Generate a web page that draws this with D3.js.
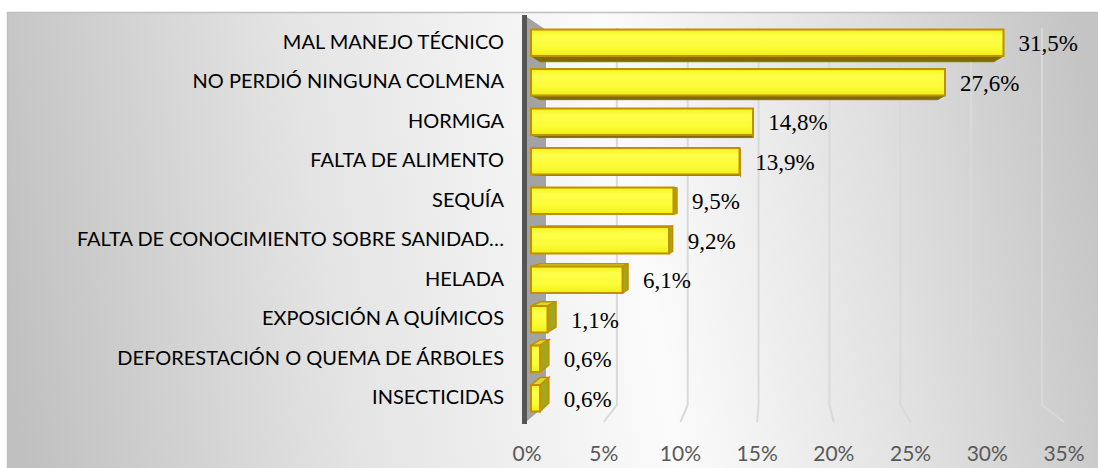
<!DOCTYPE html>
<html>
<head>
<meta charset="utf-8">
<script src="https://cdn.jsdelivr.net/npm/d3@7"></script>
<style>
  html, body { margin: 0; padding: 0; background: #fff; }
  svg { display: block; }
</style>
</head>
<body>
<div id="chart"></div>
<script>
"use strict";

const categories = [
  'MAL MANEJO TÉCNICO',
  'NO PERDIÓ NINGUNA COLMENA',
  'HORMIGA',
  'FALTA DE ALIMENTO',
  'SEQUÍA',
  'FALTA DE CONOCIMIENTO SOBRE SANIDAD…',
  'HELADA',
  'EXPOSICIÓN A QUÍMICOS',
  'DEFORESTACIÓN O QUEMA DE ÁRBOLES',
  'INSECTICIDAS'
];
const values = [31.5, 27.6, 14.8, 13.9, 9.5, 9.2, 6.1, 1.1, 0.6, 0.6];
const tickValues = [0, 5, 10, 15, 20, 25, 30, 35];

const W = 1098, H = 468;
const vanish = [760, 200];   // rough perspective point
const depth = 0.04;          // how much the back face shrinks toward it

const es = d3.formatLocale({decimal: ',', thousands: '.', grouping: [3], currency: ['', '€']});
const fmtValue = d => es.format('.1f')(d) + '%';

let svg = d3.select('#chart').append('svg')
  .attr('width', W)
  .attr('height', H);

let defs = svg.append('defs');

let bg = defs.append('linearGradient')
  .attr('id', 'bg')
  .attr('gradientUnits', 'userSpaceOnUse')
  .attr('x1', 0).attr('y1', 330)
  .attr('x2', W).attr('y2', 140);
[[0, '#c0c0c0'], [0.3, '#e4e4e4'], [0.58, '#fbfbfb'], [0.8, '#e0e0e0'], [1, '#c4c4c4']]
  .forEach(s => bg.append('stop').attr('offset', s[0]).attr('stop-color', s[1]));

let face = defs.append('linearGradient')
  .attr('id', 'face')
  .attr('x1', 0).attr('y1', 0)
  .attr('x2', 0).attr('y2', 1);
[[0, '#f2f21a'], [0.25, '#ffff4a'], [0.7, '#fbfb35'], [1, '#f0f014']]
  .forEach(s => face.append('stop').attr('offset', s[0]).attr('stop-color', s[1]));

// plot area background
svg.append('rect')
  .attr('x', 7.5).attr('y', 12.5)
  .attr('width', W).attr('height', H)
  .attr('fill', 'url(#bg)')
  .attr('stroke', '#bfbfbf')
  .attr('stroke-width', 1.5);

// scales: bars sit between back wall and front edge of the floor
let x = d3.scaleLinear().domain([0, 35]).range([531, 1056]);
let xBack = d3.scaleLinear().domain([0, 35]).range([546, 1042]);
let xFront = d3.scaleLinear().domain([0, 35]).range([527, 1064]);

let y = d3.scaleBand()
  .domain(categories)
  .range([23, 418])
  .paddingInner(0.33)
  .paddingOuter(0.165);

// gridlines on the back wall, bending onto the floor
svg.append('g')
  .selectAll('path')
  .data(tickValues.filter(t => t > 0))
  .enter()
  .append('path')
  .attr('d', t => d3.line()([[xBack(t), 28], [xBack(t), 405], [xFront(t), 422]]))
  .attr('fill', 'none')
  .attr('stroke', '#d9d9d9')
  .attr('stroke-width', 2);

// side wall
svg.append('path')
  .attr('d', d3.line()([[527, 17], [546, 30], [546, 405], [527, 421]]) + 'Z')
  .attr('fill', '#a3a3a3');
svg.append('rect')
  .attr('x', 522).attr('y', 15)
  .attr('width', 5).attr('height', 409)
  .attr('fill', '#555');

function toBack(p)
{
  return [p[0] + (vanish[0] - p[0]) * depth, p[1] + (vanish[1] - p[1]) * depth];
}

let bars = svg.append('g')
  .selectAll('g')
  .data(categories.map((c, i) => ({c: c, v: values[i]})))
  .enter()
  .append('g');

bars.each(function (d)
{
  let g = d3.select(this);
  let x0 = x(0), x1 = x(d.v), y0 = y(d.c), y1 = y(d.c) + y.bandwidth();
  let poly = pts => d3.line()(pts) + 'Z';

  if (vanish[1] > y1)
  {
    g.append('path')
      .attr('d', poly([[x0, y1], [x1, y1], toBack([x1, y1]), toBack([x0, y1])]))
      .attr('fill', '#7d6d00')
      .attr('stroke', '#8a7600')
      .attr('stroke-width', 1);
  }
  if (vanish[1] < y0)
  {
    g.append('path')
      .attr('d', poly([[x0, y0], [x1, y0], toBack([x1, y0]), toBack([x0, y0])]))
      .attr('fill', '#dada2a')
      .attr('stroke', '#bf9000')
      .attr('stroke-width', 1.5);
  }
  if (vanish[0] > x1)
  {
    g.append('path')
      .attr('d', poly([[x1, y0], [x1, y1], toBack([x1, y1]), toBack([x1, y0])]))
      .attr('fill', '#a6a61c')
      .attr('stroke', '#bf9000')
      .attr('stroke-width', 1.5);
  }
  g.append('rect')
    .attr('x', x0).attr('y', y0)
    .attr('width', x1 - x0).attr('height', y1 - y0)
    .attr('fill', 'url(#face)')
    .attr('stroke', '#bf9000')
    .attr('stroke-width', 2);
});

// data labels
bars.append('text')
  .attr('x', d => (vanish[0] > x(d.v) ? toBack([x(d.v), 0])[0] : x(d.v)) + 15)
  .attr('y', d => y(d.c) + y.bandwidth() / 2 + 1)
  .attr('dominant-baseline', 'central')
  .style('font-family', '"Liberation Serif", "Times New Roman", serif')
  .style('font-size', '23px')
  .style('fill', '#000')
  .text(d => fmtValue(d.v));

// category labels
svg.append('g')
  .selectAll('text')
  .data(categories)
  .enter()
  .append('text')
  .attr('x', 504)
  .attr('y', d => y(d) + y.bandwidth() / 2 - 2)
  .attr('text-anchor', 'end')
  .attr('dominant-baseline', 'central')
  .style('font-family', 'Lato, "Open Sans", sans-serif')
  .style('font-size', '20px')
  .style('fill', '#000')
  .text(d => d);

// value axis labels
svg.append('g')
  .selectAll('text')
  .data(xFront.ticks(7))
  .enter()
  .append('text')
  .attr('x', d => xFront(d))
  .attr('y', 452)
  .attr('text-anchor', 'middle')
  .attr('dominant-baseline', 'central')
  .style('font-family', 'Lato, "Open Sans", sans-serif')
  .style('font-size', '21px')
  .style('fill', '#595959')
  .text(d => d + '%');
</script>
</body>
</html>
